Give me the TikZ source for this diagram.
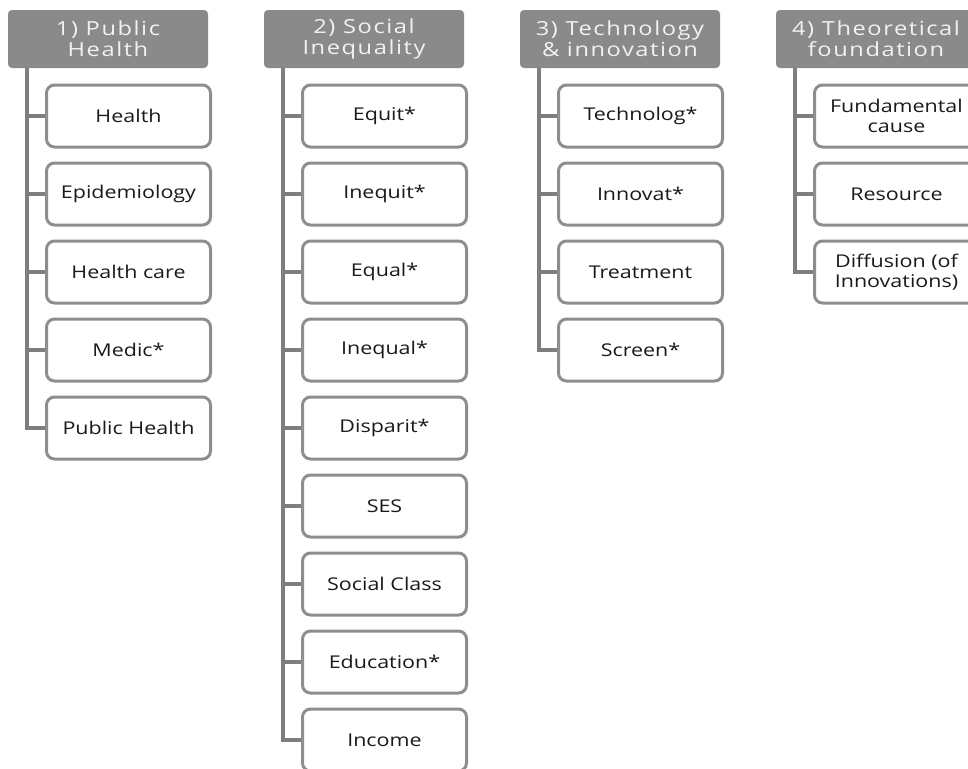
\documentclass[tikz,border=0pt]{standalone}
\usepackage{fontspec}
\setmainfont{Open Sans}[FakeStretch=1.22]
\newfontfamily\headfont{Open Sans}[FakeStretch=1.22, LetterSpace=8]
\usepackage{tikz}

\definecolor{headgray}{HTML}{8A8A8A}
\definecolor{boxgray}{HTML}{8E8E8E}
\definecolor{linkgray}{HTML}{7E7E7E}
\definecolor{textdark}{HTML}{1A1A1A}

\begin{document}
\begin{tikzpicture}[x=0.5pt, y=-0.5pt, node distance=39pt,
	head/.style={rectangle, rounded corners=2pt, fill=headgray, text=white!95!black,
		minimum width=100pt, minimum height=29pt, inner sep=1pt, align=center,
		font=\headfont\fontsize{9.7}{10.6}\selectfont},
	leaf/.style={rectangle, rounded corners=4pt, draw=boxgray, line width=1.5pt, fill=white,
		minimum width=82pt, minimum height=31pt, inner sep=1pt, align=center, text=textdark,
		font=\fontsize{8.8}{10.3}\selectfont},
	link/.style={draw=linkgray, line width=2pt}]
	\clip (0,0) rectangle (968,768);

	% column headers
	\node[head] (ph) at (108,39) {1) Public\\Health};
	\node[head] (si) at (364,39) {2) Social\\Inequality};
	\node[head] (ti) at (620,39) {3) Technology\\\& innovation};
	\node[head] (tf) at (876,39) {4) Theoretical\\foundation};

	% 1) public health
	\node[leaf] (ph1) at (128.5,116) {Health};
	\node[leaf] (ph2) [below of=ph1] {Epidemiology};
	\node[leaf] (ph3) [below of=ph2] {Health care};
	\node[leaf] (ph4) [below of=ph3] {Medic*};
	\node[leaf] (ph5) [below of=ph4] {Public Health};

	% 2) social inequality
	\node[leaf] (si1) at (384.5,116) {Equit*};
	\node[leaf] (si2) [below of=si1] {Inequit*};
	\node[leaf] (si3) [below of=si2] {Equal*};
	\node[leaf] (si4) [below of=si3] {Inequal*};
	\node[leaf] (si5) [below of=si4] {Disparit*};
	\node[leaf] (si6) [below of=si5] {SES};
	\node[leaf] (si7) [below of=si6] {Social Class};
	\node[leaf] (si8) [below of=si7] {Education*};
	\node[leaf] (si9) [below of=si8] {Income};

	% 3) technology & innovation
	\node[leaf] (ti1) at (640.5,116) {Technolog*};
	\node[leaf] (ti2) [below of=ti1] {Innovat*};
	\node[leaf] (ti3) [below of=ti2] {Treatment};
	\node[leaf] (ti4) [below of=ti3] {Screen*};

	% 4) theoretical foundation
	\node[leaf] (tf1) at (896.5,116) {Fundamental\\cause};
	\node[leaf] (tf2) [below of=tf1] {Resource};
	\node[leaf] (tf3) [below of=tf2] {Diffusion (of\\Innovations)};

	\path[link] ([xshift=9.5pt]ph.south west) |- (ph1.west);
	\path[link] ([xshift=9.5pt]ph.south west) |- (ph2.west);
	\path[link] ([xshift=9.5pt]ph.south west) |- (ph3.west);
	\path[link] ([xshift=9.5pt]ph.south west) |- (ph4.west);
	\path[link] ([xshift=9.5pt]ph.south west) |- (ph5.west);
	\path[link] ([xshift=9.5pt]si.south west) |- (si1.west);
	\path[link] ([xshift=9.5pt]si.south west) |- (si2.west);
	\path[link] ([xshift=9.5pt]si.south west) |- (si3.west);
	\path[link] ([xshift=9.5pt]si.south west) |- (si4.west);
	\path[link] ([xshift=9.5pt]si.south west) |- (si5.west);
	\path[link] ([xshift=9.5pt]si.south west) |- (si6.west);
	\path[link] ([xshift=9.5pt]si.south west) |- (si7.west);
	\path[link] ([xshift=9.5pt]si.south west) |- (si8.west);
	\path[link] ([xshift=9.5pt]si.south west) |- (si9.west);
	\path[link] ([xshift=9.5pt]ti.south west) |- (ti1.west);
	\path[link] ([xshift=9.5pt]ti.south west) |- (ti2.west);
	\path[link] ([xshift=9.5pt]ti.south west) |- (ti3.west);
	\path[link] ([xshift=9.5pt]ti.south west) |- (ti4.west);
	\path[link] ([xshift=9.5pt]tf.south west) |- (tf1.west);
	\path[link] ([xshift=9.5pt]tf.south west) |- (tf2.west);
	\path[link] ([xshift=9.5pt]tf.south west) |- (tf3.west);
\end{tikzpicture}
\end{document}
